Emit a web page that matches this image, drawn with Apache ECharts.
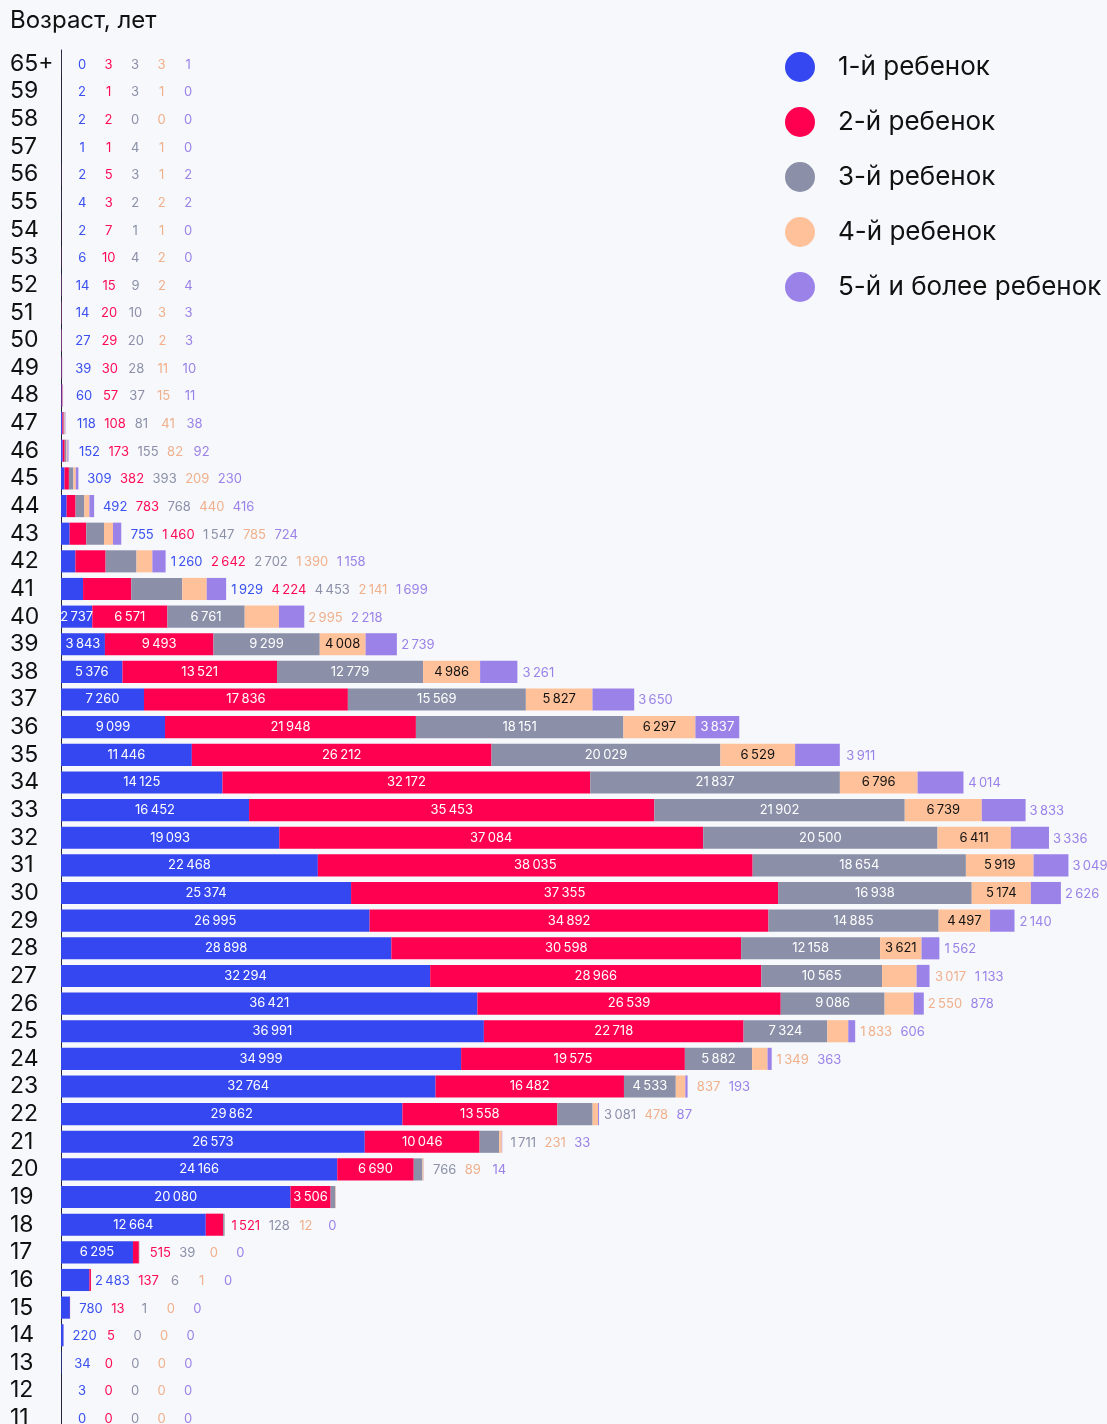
<!DOCTYPE html>
<html>
<head>
<meta charset="utf-8">
<script src="https://cdn.jsdelivr.net/npm/echarts@6/dist/echarts.min.js"></script>
<style>
html,body{margin:0;padding:0;background:#f6f8fb;overflow:hidden;}
#chart{width:1107px;height:1440px;}
</style>
</head>
<body>
<div id="chart"></div>
<script>
const categories = ['65+','59','58','57','56','55','54','53','52','51','50','49','48','47','46','45','44','43','42','41','40','39','38','37','36','35','34','33','32','31','30','29','28','27','26','25','24','23','22','21','20','19','18','17','16','15','14','13','12','11'];
const seriesNames = ['1-й ребенок','2-й ребенок','3-й ребенок','4-й ребенок','5-й и более ребенок'];
const child1 = [0,2,2,1,2,4,2,6,14,14,27,39,60,118,152,309,492,755,1260,1929,2737,3843,5376,7260,9099,11446,14125,16452,19093,22468,25374,26995,28898,32294,36421,36991,34999,32764,29862,26573,24166,20080,12664,6295,2483,780,220,34,3,0];
const child2 = [3,1,2,1,5,3,7,10,15,20,29,30,57,108,173,382,783,1460,2642,4224,6571,9493,13521,17836,21948,26212,32172,35453,37084,38035,37355,34892,30598,28966,26539,22718,19575,16482,13558,10046,6690,3506,1521,515,137,13,5,0,0,0];
const child3 = [3,3,0,4,3,2,1,4,9,10,20,28,37,81,155,393,768,1547,2702,4453,6761,9299,12779,15569,18151,20029,21837,21902,20500,18654,16938,14885,12158,10565,9086,7324,5882,4533,3081,1711,766,410,128,39,6,1,0,0,0,0];
const child4 = [3,1,0,1,1,2,1,2,2,3,2,11,15,41,82,209,440,785,1390,2141,2995,4008,4986,5827,6297,6529,6796,6739,6411,5919,5174,4497,3621,3017,2550,1833,1349,837,478,231,89,40,12,0,1,0,0,0,0,0];
const child5 = [1,0,0,0,2,2,0,0,4,3,3,10,11,38,92,230,416,724,1158,1699,2218,2739,3261,3650,3837,3911,4014,3833,3336,3049,2626,2140,1562,1133,878,606,363,193,87,33,14,6,0,0,0,0,0,0,0,0];
// how many segments of each row carry their label inside the bar
const insideCount = [0,0,0,0,0,0,0,0,0,0,0,0,0,0,0,0,0,0,0,0,3,4,4,4,5,4,4,4,4,4,4,4,4,3,3,3,3,3,2,2,2,2,1,1,0,0,0,0,0,0];
const rowsWithoutOutsideLabels = ['19'];

const allSeries = [child1, child2, child3, child4, child5];
const barColors = ['#3447f0','#ff0050','#8b90a8','#ffc199','#9b82e8'];
const outLabelColors = ['#3a4ff0','#ff0a55','#8b90a8','#f0b08c','#9b82e8'];
const inLabelColors = ['#ffffff','#ffffff','#ffffff','#111111','#ffffff'];
const FONT = 'Inter, "Noto Sans", sans-serif';

function fmt(v){
  return String(v).replace(/\B(?=(\d{3})+(?!\d))/g, '\u202f');
}
const measureCtx = document.createElement('canvas').getContext('2d');
measureCtx.font = '13px ' + FONT;
function tw(t){ return measureCtx.measureText(t).width; }

const totals = categories.map((c,i)=>allSeries.reduce((s,a)=>s+a[i],0));

const chart = echarts.init(document.getElementById('chart'), null, {renderer:'canvas'});

const barSeries = allSeries.map((arr,k)=>({
  name: seriesNames[k],
  type: 'bar',
  stack: 'total',
  barCategoryGap: '20%',
  itemStyle: {color: barColors[k]},
  data: arr.map((v,i)=>({
    value: v,
    label: {show: k < insideCount[i]}
  })),
  label: {
    position: 'inside',
    color: inLabelColors[k],
    fontSize: 13,
    fontFamily: FONT,
    formatter: p => fmt(p.value)
  },
  emphasis: {disabled: true},
  animation: false
}));

const outsideSeries = {
  type: 'custom',
  name: 'outside',
  clip: false,
  animation: false,
  silent: true,
  data: categories.map((c,i)=>[totals[i], i]),
  encode: {x: 0, y: 1},
  renderItem: function(params, api){
    const idx = api.value(1);
    if (rowsWithoutOutsideLabels.indexOf(categories[idx]) >= 0) return {type:'group', children:[]};
    const pt = api.coord([api.value(0), idx]);
    const children = [];
    let center = null, prevW = 0;
    for (let k = insideCount[idx]; k < 5; k++){
      const t = fmt(allSeries[k][idx]);
      const w = tw(t);
      if (center === null) center = pt[0] + Math.max(w/2 + 4, 21);
      else center += Math.max(prevW/2 + w/2 + 8.5, 26.5);
      prevW = w;
      children.push({
        type: 'text',
        x: center,
        y: pt[1] + 1,
        style: {
          text: t,
          fill: outLabelColors[k],
          font: '13px ' + FONT,
          align: 'center',
          verticalAlign: 'middle'
        }
      });
    }
    return {type:'group', children};
  }
};

chart.setOption({
  backgroundColor: '#f6f8fb',
  animation: false,
  title: {
    text: 'Возраст, лет',
    left: 10, top: 9, padding: 0,
    textStyle: {fontSize: 24, fontWeight: 'normal', color: '#111', fontFamily: FONT}
  },
  legend: {
    data: seriesNames,
    orient: 'vertical',
    left: 785, top: 52, padding: 0,
    icon: 'circle',
    itemWidth: 30, itemHeight: 30,
    itemGap: 25,
    selectedMode: false,
    textStyle: {fontSize: 26, color: '#111', fontFamily: FONT, padding: [0,0,0,18]}
  },
  grid: {left: 61, right: 0, top: 50, height: 1382, containLabel: false},
  xAxis: {
    type: 'value', min: 0, max: 91500,
    show: false,
    splitLine: {show: false}
  },
  yAxis: {
    type: 'category',
    data: categories,
    inverse: true,
    axisLine: {show: true, lineStyle: {color: '#22243a', width: 1}},
    axisTick: {show: false},
    axisLabel: {
      interval: 0,
      align: 'left', margin: 51,
      fontSize: 23, color: '#111', fontFamily: FONT
    }
  },
  series: barSeries.concat([outsideSeries])
});
</script>
</body>
</html>
